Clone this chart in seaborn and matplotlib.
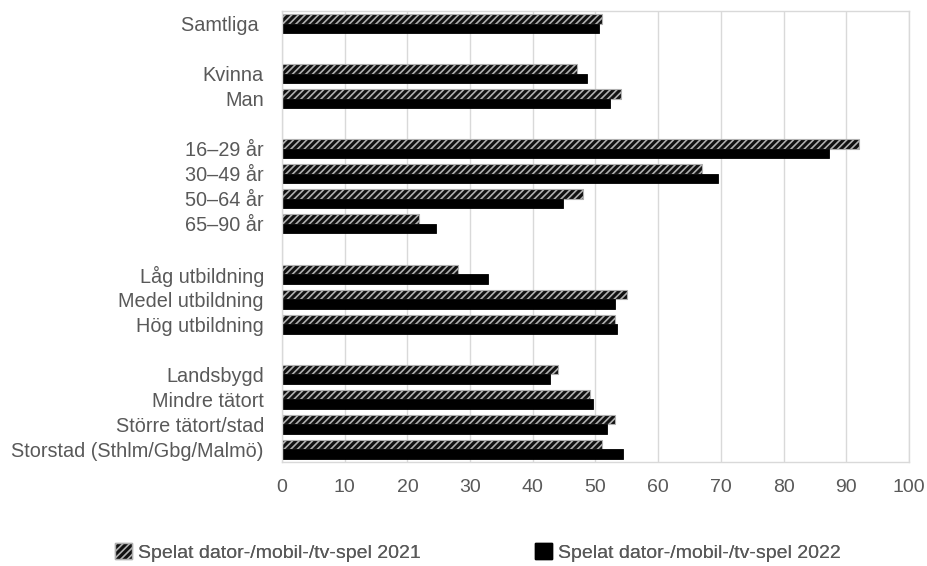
import matplotlib
matplotlib.use("Agg")
import matplotlib.pyplot as plt
from matplotlib.patches import Patch
import numpy as np
import pandas as pd
import seaborn as sns

# Categories (blank entries are spacer rows between groups)
categories = ["Samtliga ", "", "Kvinna", "Man", " ",
              "16–29 år", "30–49 år", "50–64 år", "65–90 år", "  ",
              "Låg utbildning", "Medel utbildning", "Hög utbildning", "   ",
              "Landsbygd", "Mindre tätort", "Större tätort/stad",
              "Storstad (Sthlm/Gbg/Malmö)"]
nan = np.nan
values_2021 = [51.1, nan, 47.0, 54.1, nan,
               92.0, 67.0, 48.0, 21.9, nan,
               28.0, 55.1, 53.1, nan,
               44.0, 49.1, 53.1, 51.1]
values_2022 = [50.5, nan, 48.6, 52.3, nan,
               87.3, 69.5, 44.8, 24.5, nan,
               32.8, 53.1, 53.5, nan,
               42.7, 49.6, 51.9, 54.4]
series = ["Spelat dator-/mobil-/tv-spel 2021", "Spelat dator-/mobil-/tv-spel 2022"]

df = pd.DataFrame({
    "kategori": categories * 2,
    "andel": values_2021 + values_2022,
    "serie": [series[0]] * len(categories) + [series[1]] * len(categories),
})

sns.set_style("white")
plt.rcParams["font.family"] = ["Liberation Sans", "DejaVu Sans"]
plt.rcParams["hatch.linewidth"] = 1.2

fig, ax = plt.subplots(figsize=(9.28, 5.66), dpi=100)
fig.subplots_adjust(left=0.3039, right=0.9795, top=0.9806, bottom=0.1837)

sns.barplot(data=df, y="kategori", x="andel", hue="serie", order=categories,
            hue_order=series, palette=["#1a1a1a", "#000000"], width=0.76,
            orient="h", ax=ax, legend=False)

# style the 2021 bars as hatched
for bar in ax.containers[0]:
    bar.set_facecolor("#111111")
    bar.set_edgecolor("#b0b0b0")
    bar.set_hatch("/////")
    bar.set_linewidth(0.8)
for bar in ax.containers[1]:
    bar.set_edgecolor("#000000")
    bar.set_linewidth(0.6)

ax.set_xlim(0, 100)
ax.set_ylim(len(categories) - 0.5, -0.5)
ax.set_xticks(range(0, 101, 10))
ax.grid(axis="x", color="#d9d9d9", linewidth=1)
ax.set_axisbelow(True)
for s in ax.spines.values():
    s.set_color("#d9d9d9")
    s.set_linewidth(1)
ax.tick_params(axis="x", colors="#d9d9d9", length=5, labelcolor="#595959", labelsize=14, pad=7)
ax.tick_params(axis="y", length=0, labelcolor="#595959", labelsize=14.3, pad=13)
ax.set_xlabel("")
ax.set_ylabel("")

h1 = Patch(facecolor="#111111", edgecolor="#b0b0b0", hatch="/////", label=series[0])
h2 = Patch(facecolor="#000000", edgecolor="#000000", label=series[1])
for handle, x0 in [(h1, 115 / 928), (h2, 535 / 928)]:
    leg = fig.legend(handles=[handle], loc="center left", bbox_to_anchor=(x0, 0.024),
                     frameon=False, fontsize=14, labelcolor="#595959", handlelength=0.88,
                     handleheight=0.88, handletextpad=0.32, borderpad=0, borderaxespad=0)
    fig.add_artist(leg)

fig.savefig("out.png", dpi=100)
